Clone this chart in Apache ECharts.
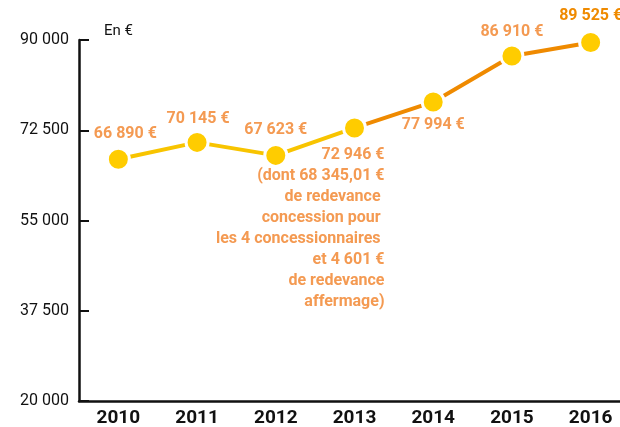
<!DOCTYPE html>
<html style="height: 427px;width: 620px;">
<head>
  <meta charset="UTF-8">
  <title>Redevance</title>
</head>
<body style="margin: 0;height: 100%;width: 100%;background: #ffffff;">
  <div id="chart" style="width: 620px;height: 427px;"></div>
<script src="https://cdn.jsdelivr.net/npm/echarts@6/dist/echarts.min.js"></script>
<script>
// données
var years = ['2010', '2011', '2012', '2013', '2014', '2015', '2016'];
var values = [66890, 70145, 67623, 72946, 77994, 86910, 89525];
var valueLabels = ['66 890 €', '70 145 €', '67 623 €',
  '72 946 €\n(dont 68 345,01 €\nde redevance \nconcession pour \nles 4 concessionnaires \net 4 601 €\nde redevance\naffermage)',
  '77 994 €', '86 910 €', '89 525 €'];
var yTicks = [20000, 37500, 55000, 72500, 90000];

var font = "Roboto, sans-serif";
var labelColor = '#f49a52';

// placement des étiquettes autour des points
var labelPos = [
  {position: 'top', offset: [7, -2]},
  {position: 'top', offset: [1, 0]},
  {position: 'top', offset: [0, -2]},
  {position: 'bottom', align: 'right', offset: [30, 1], lineHeight: 21},
  {position: 'bottom', offset: [0, 0]},
  {position: 'top', offset: [0, 0]},
  {position: 'top', offset: [0, -3], color: '#ef8a00'}
];

var dots = values.map(function (v, i) {
  return {
    value: v,
    label: Object.assign({show: true, formatter: valueLabels[i]}, labelPos[i])
  };
});

// deux segments : jaune jusqu'en 2013, orange ensuite
var firstPart = values.map(function (v, i) { return i <= 3 ? v : '-'; });
var secondPart = values.map(function (v, i) { return i >= 3 ? v : '-'; });

function spaced(n) {
  return String(n).replace(/\B(?=(\d{3})+(?!\d))/g, ' ');
}

var chart = echarts.init(document.getElementById('chart'));
chart.setOption({
  animation: false,
  grid: {left: 79, top: 40, width: 551, height: 361, outerBoundsMode: 'none'},
  xAxis: {
    type: 'category',
    data: years,
    boundaryGap: true,
    axisLine: {lineStyle: {color: '#111', width: 2.5}},
    axisTick: {inside: true, length: 9, lineStyle: {color: '#111', width: 1.5}},
    axisLabel: {color: '#111', fontFamily: font, fontWeight: 'bold', fontSize: 19, margin: 8}
  },
  yAxis: {
    type: 'value',
    min: yTicks[0],
    max: yTicks[yTicks.length - 1],
    interval: 17500,
    splitLine: {show: false},
    axisLine: {show: true, lineStyle: {color: '#111', width: 2.5}},
    axisTick: {show: true, inside: true, length: 10, lineStyle: {color: '#111', width: 2}},
    axisLabel: {color: '#111', fontFamily: font, fontSize: 16, margin: 10, formatter: spaced}
  },
  graphic: [{
    type: 'text', left: 104, top: 24,
    style: {text: 'En €', fill: '#111', font: '15px ' + font}
  }],
  series: [
    {type: 'line', data: firstPart, showSymbol: false, lineStyle: {color: '#f8c400', width: 4}, z: 2},
    {type: 'line', data: secondPart, showSymbol: false, lineStyle: {color: '#ef8a00', width: 4}, z: 2},
    {
      type: 'scatter', data: dots, symbolSize: 22, z: 3,
      itemStyle: {color: '#ffcc00', opacity: 1, borderColor: '#fff', borderWidth: 3},
      label: {color: labelColor, fontFamily: font, fontWeight: 'bold', fontSize: 16, distance: 3}
    }
  ]
});
</script>
</body>
</html>
